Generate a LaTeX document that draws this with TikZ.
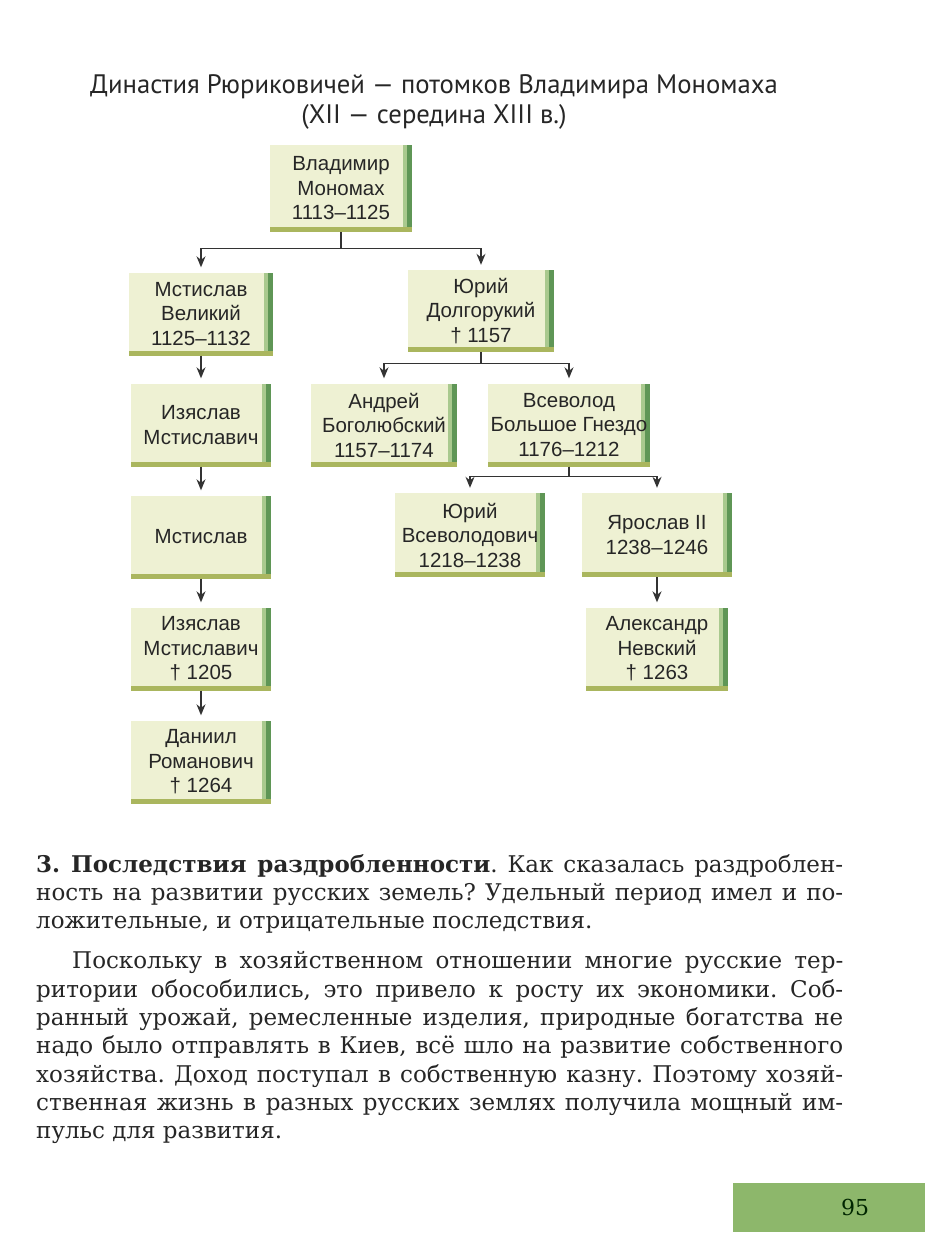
\documentclass[tikz,border=0pt]{standalone}
\usepackage{fontspec}
\setmainfont{DejaVu Serif}
\newfontfamily\boxfont{Liberation Sans}
\newfontfamily\titlefont{PT Sans}
\usetikzlibrary{arrows.meta}
\definecolor{boxfill}{HTML}{EEF1D3}
\definecolor{boxright}{HTML}{5F9656}
\definecolor{boxrightlight}{HTML}{A9C98E}
\definecolor{boxbottom}{HTML}{AAB65E}
\definecolor{linecol}{HTML}{333333}
\definecolor{pagebar}{HTML}{8DB76B}
\definecolor{textcol}{HTML}{262626}
\frenchspacing
\begin{document}
\begin{tikzpicture}[x=1pt,y=-1pt,
 fam/.style={fill=boxfill, inner sep=0pt, align=center, text=textcol,
   font=\boxfont\fontsize{20.5}{24.5}\selectfont,
   path picture={
     \fill[boxrightlight] ([xshift=-9pt]path picture bounding box.north east) rectangle ([xshift=-5pt]path picture bounding box.south east);
     \fill[boxright] ([xshift=-5pt]path picture bounding box.north east) rectangle (path picture bounding box.south east);
     \fill[boxbottom] ([yshift=5pt]path picture bounding box.south west) rectangle (path picture bounding box.south east);
   }},
 link/.style={draw=linecol, line width=1.3pt, -{Stealth[length=11pt,width=9pt]}, shorten >=5pt},
 bodyline/.style={anchor=base west, inner sep=0pt, text=textcol, font=\fontsize{23}{28}\selectfont},
 ttl/.style={anchor=base, inner sep=0pt, text=textcol, font=\titlefont\fontsize{26.7}{30}\selectfont},
]
\fill[white] (0,0) rectangle (925,1256);
\useasboundingbox (0,0) rectangle (925,1256);

% title
\node[ttl] (t1) at (434,93) {Династия Рюриковичей — потомков Владимира Мономаха};
\node[ttl] (t2) at (434,123) {(XII — середина XIII в.)};

% boxes
\node[fam, minimum width=142pt, minimum height=87pt] (V) at (341,188.5) {Владимир\\Мономах\\1113–1125};
\node[fam, minimum width=144pt, minimum height=83pt] (MV) at (201,314) {Мстислав\\Великий\\1125–1132};
\node[fam, minimum width=146pt, minimum height=82pt] (YD) at (481,311) {Юрий\\Долгорукий\\† 1157};
\node[fam, minimum width=140pt, minimum height=83pt] (IM) at (201,425) {Изяслав\\Мстиславич};
\node[fam, minimum width=146pt, minimum height=83pt] (AB) at (384,425) {Андрей\\Боголюбский\\1157–1174};
\node[fam, minimum width=162pt, minimum height=83pt] (VB) at (569,425) {Всеволод\\Большое Гнездо\\1176–1212};
\node[fam, minimum width=150pt, minimum height=84pt] (YV) at (470,535) {Юрий\\Всеволодович\\1218–1238};
\node[fam, minimum width=140pt, minimum height=83pt] (M) at (201,537) {Мстислав};
\node[fam, minimum width=150pt, minimum height=84pt] (Y2) at (657,535) {Ярослав II\\1238–1246};
\node[fam, minimum width=140pt, minimum height=83pt] (IM2) at (201,649) {Изяслав\\Мстиславич\\† 1205};
\node[fam, minimum width=142pt, minimum height=83pt] (AN) at (657,649) {Александр\\Невский\\† 1263};
\node[fam, minimum width=140pt, minimum height=83pt] (D) at (201,762) {Даниил\\Романович\\† 1264};

% connectors
\draw[link] (V.south) -- ++(0,16) -| (MV.north);
\draw[link] (V.south) -- ++(0,16) -| (YD.north);
\draw[link] (YD.south) -- ++(0,11) -| (AB.north);
\draw[link] (YD.south) -- ++(0,11) -| (VB.north);
\draw[link] (VB.south) -- ++(0,9.5) -| (YV.north);
\draw[link] (VB.south) -- ++(0,9.5) -| (Y2.north);
\draw[link] (Y2.south) -- (AN.north);
\draw[link] (MV.south) -- (IM.north);
\draw[link] (IM.south) -- (M.north);
\draw[link] (M.south) -- (IM2.north);
\draw[link] (IM2.south) -- (D.north);

% body text
\node[bodyline] (b1) at (36,872) {\makebox[807pt][s]{\textbf{3. Последствия раздробленности}. Как сказалась раздроблен-}};
\node[bodyline] (b2) at (36,900) {\makebox[807pt][s]{ность на развитии русских земель? Удельный период имел и по-}};
\node[bodyline] (b3) at (36,928) {ложительные, и отрицательные последствия.};
\node[bodyline] (b4) at (72,968) {\makebox[771pt][s]{Поскольку в хозяйственном отношении многие русские тер-}};
\node[bodyline] (b5) at (36,997) {\makebox[807pt][s]{ритории обособились, это привело к росту их экономики. Соб-}};
\node[bodyline] (b6) at (36,1025) {\makebox[807pt][s]{ранный урожай, ремесленные изделия, природные богатства не}};
\node[bodyline] (b7) at (36,1053) {\makebox[807pt][s]{надо было отправлять в Киев, всё шло на развитие собственного}};
\node[bodyline] (b8) at (36,1082) {\makebox[807pt][s]{хозяйства. Доход поступал в собственную казну. Поэтому хозяй-}};
\node[bodyline] (b9) at (36,1110) {\makebox[807pt][s]{ственная жизнь в разных русских землях получила мощный им-}};
\node[bodyline] (b10) at (36,1138) {пульс для развития.};

% page number bar
\fill[pagebar] (733,1183) rectangle (925,1232);
\node[font=\fontsize{22}{26}\selectfont, text=black!85!green, anchor=base] (pg) at (855,1215) {95};
\end{tikzpicture}
\end{document}
